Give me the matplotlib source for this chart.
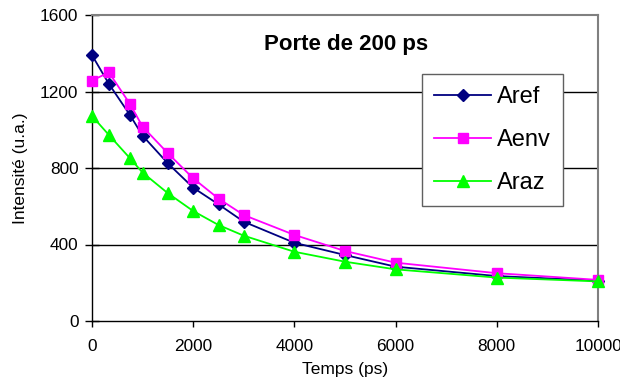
import matplotlib
matplotlib.use("Agg")
import matplotlib.pyplot as plt
from matplotlib.transforms import Bbox, TransformedBbox

plt.rcParams['font.family'] = ['Liberation Sans', 'DejaVu Sans']

temps = [0, 333, 750, 1000, 1500, 2000, 2500, 3000, 4000, 5000, 6000, 8000, 10000]
aref = [1390, 1240, 1077, 969, 824, 697, 610, 519, 409, 345, 284, 235, 211]
aenv = [1257, 1300, 1135, 1016, 877, 746, 640, 554, 450, 366, 305, 250, 215]
araz = [1072, 973, 851, 776, 668, 575, 502, 446, 362, 310, 270, 227, 207]

fig = plt.figure(figsize=(6.32, 3.89), dpi=100)
ax = fig.add_axes([92/632, 1-321/389, 506/632, 306/389])

ax.plot(temps, aref, color='#000080', marker='D', markersize=6.5, lw=1.3, label='Aref', clip_on=False, zorder=3)
ax.plot(temps, aenv, color='#FF00FF', marker='s', markersize=7, lw=1.3, label='Aenv', clip_on=False, zorder=3)
ax.plot(temps, araz, color='#00FF00', marker='^', markersize=8, lw=1.3, label='Araz', clip_on=False, zorder=3)

ax.set_xlim(0, 10000)
ax.set_ylim(0, 1600)
ax.set_xticks([0, 2000, 4000, 6000, 8000, 10000])
ax.set_yticks([0, 400, 800, 1200, 1600])
for y in [400, 800, 1200]:
    ax.axhline(y, color='black', lw=1.0, zorder=0)

for s in ['top', 'right']:
    ax.spines[s].set_color('#808080')
    ax.spines[s].set_linewidth(1.5)
for s in ['left', 'bottom']:
    ax.spines[s].set_color('black')
    ax.spines[s].set_linewidth(1.0)

ax.tick_params(axis='y', direction='inout', length=9.5, width=1, labelsize=12.4, pad=5)
ax.tick_params(axis='x', direction='out', length=4, width=1, labelsize=12.4, pad=9)

ax.set_xlabel('Temps (ps)', fontsize=12.5, labelpad=6)
ax.set_ylabel('Intensité (u.a.)', fontsize=12.5, labelpad=9)

ax.text(0.503, 0.905, 'Porte de 200 ps', transform=ax.transAxes, ha='center', va='center',
        fontsize=16, fontweight='bold')

leg = ax.legend(loc='upper left', bbox_to_anchor=(0.652, 0.807), fontsize=17,
                frameon=True, fancybox=False, edgecolor='#606060', framealpha=1,
                handlelength=2.4, handletextpad=0.25, labelspacing=0.88, borderpad=0.52,
                markerscale=1.0, borderaxespad=0)
leg.get_frame().set_linewidth(1.0)

fig.canvas.draw()
lbl = ax.get_xticklabels()[-1]
lbl.set_clip_box(TransformedBbox(Bbox([[0, 0], [620/632, 1]]), fig.transFigure))
lbl.set_clip_on(True)

fig.savefig('out.png', dpi=100)
